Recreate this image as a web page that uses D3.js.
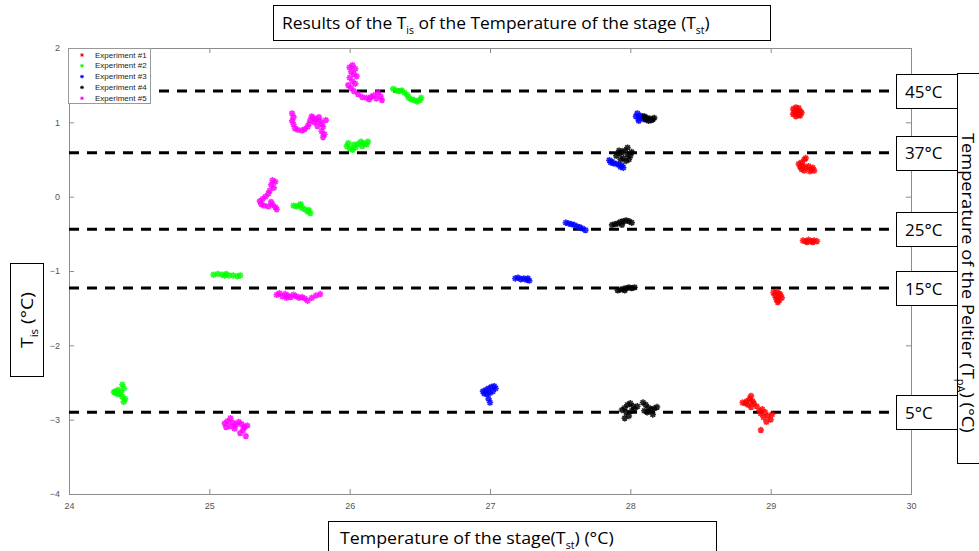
<!DOCTYPE html>
<html>
<head>
<meta charset="utf-8">
<script src="https://cdn.jsdelivr.net/npm/d3@7"></script>
<style>
  body { margin: 0; background: #fff; }
  svg { display: block; }
</style>
</head>
<body>
<script>
// --- data ---
const seriesNames = ["Experiment #1", "Experiment #2", "Experiment #3", "Experiment #4", "Experiment #5"];
const seriesColors = ["#ff0000", "#00ff00", "#0000ff", "#000000", "#ff00ff"];

// Experiment #1 (red)
const exp1 = [
  [29.16,1.18],[29.18,1.20],[29.2,1.19],[29.17,1.14],[29.19,1.12],[29.21,1.15],[29.2,1.1],[29.18,1.08],[29.16,1.11],[29.21,1.09],[29.19,1.16],[29.22,1.13],
  [29.2,0.44],[29.22,0.46],[29.21,0.40],[29.23,0.42],[29.24,0.5],[29.25,0.52],[29.22,0.37],[29.25,0.39],[29.27,0.41],[29.29,0.37],[29.31,0.35],[29.28,0.34],[29.3,0.39],[29.24,0.35],
  [29.23,-0.59],[29.25,-0.6],[29.27,-0.58],[29.29,-0.6],[29.31,-0.59],[29.33,-0.6],[29.26,-0.61],[29.3,-0.61],
  [29.02,-1.29],[29.04,-1.28],[29.06,-1.3],[29.03,-1.33],[29.05,-1.35],[29.07,-1.32],[29.04,-1.38],[29.06,-1.4],[29.05,-1.42],[29.08,-1.36],
  [28.8,-2.77],[28.83,-2.75],[28.85,-2.72],[28.86,-2.68],[28.87,-2.75],[28.84,-2.8],[28.88,-2.78],[28.9,-2.82],[28.86,-2.83],[28.82,-2.78],
  [28.92,-2.88],[28.94,-2.86],[28.93,-2.92],[28.96,-2.9],[28.95,-2.97],[28.98,-2.95],[29.0,-3.0],[28.97,-3.03],[28.93,-3.14],[29.01,-2.93]
];
// Experiment #2 (green)
const exp2 = [
  [26.31,1.45],[26.33,1.43],[26.35,1.42],[26.37,1.43],[26.39,1.40],[26.41,1.37],[26.42,1.33],[26.44,1.31],[26.46,1.30],[26.48,1.28],[26.5,1.3],[26.51,1.33],
  [25.98,0.68],[26.0,0.65],[25.99,0.72],[26.02,0.63],[26.04,0.66],[26.06,0.71],[26.08,0.74],[26.1,0.72],[26.12,0.70],[26.13,0.74],[26.09,0.68],[26.03,0.70],
  [25.6,-0.12],[25.62,-0.13],[25.64,-0.12],[25.66,-0.15],[25.68,-0.17],[25.7,-0.2],[25.72,-0.22],[25.71,-0.18],[25.65,-0.1],
  [25.03,-1.05],[25.06,-1.04],[25.09,-1.05],[25.12,-1.04],[25.14,-1.06],[25.17,-1.06],[25.2,-1.07],[25.22,-1.06],[25.11,-1.06],
  [24.33,-2.62],[24.35,-2.6],[24.37,-2.63],[24.39,-2.58],[24.38,-2.53],[24.36,-2.66],[24.38,-2.69],[24.4,-2.72],[24.39,-2.76],[24.34,-2.65],[24.32,-2.63]
];
// Experiment #3 (blue)
const exp3 = [
  [28.04,1.08],[28.05,1.12],[28.06,1.05],[28.07,1.09],[28.08,1.06],[28.09,1.08],[28.1,1.04],[28.06,1.02],
  [27.85,0.49],[27.86,0.46],[27.88,0.45],[27.9,0.44],[27.92,0.43],[27.93,0.4],[27.95,0.39],[27.94,0.42],[27.87,0.47],
  [27.54,-0.35],[27.56,-0.36],[27.58,-0.37],[27.6,-0.38],[27.62,-0.4],[27.64,-0.41],[27.66,-0.43],[27.68,-0.45],
  [27.18,-1.1],[27.2,-1.09],[27.22,-1.11],[27.24,-1.1],[27.26,-1.12],[27.28,-1.13],[27.27,-1.1],
  [26.95,-2.62],[26.97,-2.6],[26.99,-2.58],[27.01,-2.56],[27.03,-2.55],[27.04,-2.58],[26.98,-2.66],[27.0,-2.64],[27.02,-2.62],[26.99,-2.72],[27.0,-2.77],[26.96,-2.65]
];
// Experiment #4 (black)
const exp4 = [
  [28.1,1.08],[28.12,1.06],[28.14,1.05],[28.16,1.04],[28.17,1.06],[28.13,1.02],[28.15,1.03],[28.11,1.04],
  [27.9,0.55],[27.92,0.58],[27.94,0.6],[27.96,0.62],[27.98,0.57],[28.0,0.55],[27.95,0.52],[27.93,0.5],[27.97,0.48],[27.99,0.5],[28.01,0.6],[27.98,0.66],[27.92,0.62],
  [27.87,-0.38],[27.89,-0.37],[27.91,-0.36],[27.93,-0.34],[27.95,-0.33],[27.97,-0.32],[27.99,-0.33],[28.01,-0.35],[27.94,-0.38],
  [27.91,-1.26],[27.93,-1.25],[27.95,-1.24],[27.97,-1.23],[27.99,-1.22],[28.01,-1.23],[28.03,-1.22],[27.96,-1.26],
  [27.94,-2.87],[27.96,-2.84],[27.98,-2.8],[28.0,-2.78],[28.02,-2.82],[27.97,-2.9],[27.99,-2.95],[28.01,-2.88],[28.03,-2.86],[27.96,-2.98],
  [28.05,-2.82],[28.09,-2.77],[28.11,-2.8],[28.13,-2.84],[28.15,-2.86],[28.12,-2.9],[28.17,-2.85],[28.19,-2.83],[28.16,-2.93],[28.1,-2.88]
];
// Experiment #5 (magenta)
const exp5 = [
  [26.0,1.74],[26.02,1.77],[26.04,1.72],[26.01,1.68],[26.03,1.65],[26.05,1.62],[26.0,1.6],[26.02,1.55],[26.04,1.52],[25.99,1.5],[26.01,1.46],
  [26.03,1.42],[26.06,1.38],[26.09,1.34],[26.12,1.33],[26.15,1.34],[26.17,1.36],[26.19,1.32],[26.2,1.4],[26.22,1.35],[26.23,1.3],[26.14,1.31],
  [25.59,1.12],[25.6,1.07],[25.59,1.02],[25.6,0.97],[25.61,0.92],[25.63,0.9],[25.66,0.89],[25.68,0.91],[25.7,0.94],[25.71,0.98],[25.72,1.03],[25.73,1.08],
  [25.74,1.06],[25.76,1.04],[25.78,1.07],[25.79,1.02],[25.8,0.98],[25.81,0.94],[25.8,0.88],[25.82,0.84],[25.81,0.8],[25.77,0.95],[25.75,1.0],[25.83,1.03],
  [25.45,0.22],[25.47,0.2],[25.44,0.16],[25.46,0.12],[25.43,0.08],[25.42,0.04],[25.4,0.0],[25.38,-0.03],[25.36,-0.06],[25.37,-0.1],[25.39,-0.12],[25.42,-0.13],
  [25.45,-0.11],[25.47,-0.14],[25.48,-0.17],[25.44,-0.07],
  [25.48,-1.32],[25.5,-1.3],[25.52,-1.34],[25.54,-1.31],[25.56,-1.33],[25.58,-1.35],[25.6,-1.32],[25.62,-1.34],[25.64,-1.36],[25.66,-1.35],[25.68,-1.37],
  [25.7,-1.4],[25.73,-1.36],[25.76,-1.33],[25.79,-1.31],[25.55,-1.36],
  [25.11,-3.05],[25.13,-3.02],[25.15,-2.98],[25.17,-3.04],[25.19,-3.07],[25.21,-3.03],[25.23,-3.06],[25.25,-3.1],[25.27,-3.08],[25.24,-3.14],[25.22,-3.18],
  [25.26,-3.22],[25.15,-3.09],[25.12,-3.1],[25.18,-3.12]
];
const allSeries = [exp1, exp2, exp3, exp4, exp5];

// Peltier set points (dashed lines) and their labels
const peltierLevels = [1.42, 0.59, -0.44, -1.23, -2.9];
const peltierLabels = ["45°C", "37°C", "25°C", "15°C", "5°C"];

const xTicks = [24, 25, 26, 27, 28, 29, 30];
const yTicks = [-4, -3, -2, -1, 0, 1, 2];

// --- drawing ---
const W = 979, H = 551;
const boxFont = "'Open Sans', 'Noto Sans', sans-serif";
const svg = d3.select("body").append("svg").attr("width", W).attr("height", H);

const x = d3.scaleLinear().domain([24, 30]).range([69, 911]);
const y = d3.scaleLinear().domain([-4, 2]).range([494, 48]);

// axes (ticks pointing inside, like matlab)
const axisColor = "#8c8c8c";
function styleAxis(g, withText) {
  g.selectAll("path.domain").attr("stroke", axisColor);
  g.selectAll(".tick line").attr("stroke", axisColor);
  g.selectAll(".tick text")
    .attr("fill", withText ? "#555" : "none")
    .style("font-family", "'Liberation Sans', Arial, sans-serif")
    .style("font-size", "9px");
}
svg.append("g").attr("transform", "translate(0,494)")
  .call(d3.axisBottom(x).tickValues(xTicks).tickSize(-5).tickPadding(9).tickFormat(d3.format("d")))
  .call(g => styleAxis(g, true));
svg.append("g").attr("transform", "translate(0,48)")
  .call(d3.axisTop(x).tickValues(xTicks).tickSize(-5).tickFormat(""))
  .call(g => styleAxis(g, false));
svg.append("g").attr("transform", "translate(69,0)")
  .call(d3.axisLeft(y).tickValues(yTicks).tickSize(-5).tickPadding(9).tickFormat(d3.format("d")))
  .call(g => styleAxis(g, true));
svg.append("g").attr("transform", "translate(911,0)")
  .call(d3.axisRight(y).tickValues(yTicks).tickSize(-5).tickFormat(""))
  .call(g => styleAxis(g, false));

// dashed Peltier lines
svg.append("g").selectAll("line")
  .data(peltierLevels)
  .enter().append("line")
  .attr("x1", 69).attr("x2", 897)
  .attr("y1", d => y(d)).attr("y2", d => y(d))
  .attr("stroke", "#000")
  .attr("stroke-width", 3)
  .attr("stroke-dasharray", "10,8");

// star markers
const starPath = function (r) {
  let k = r * 0.72;
  return "M" + (-r) + ",0H" + r + "M0," + (-r) + "V" + r +
    "M" + (-k) + "," + (-k) + "L" + k + "," + k + "M" + (-k) + "," + k + "L" + k + "," + (-k);
};

allSeries.forEach((pts, i) => {
  svg.append("g").selectAll("path")
    .data(pts)
    .enter().append("path")
    .attr("transform", d => "translate(" + x(d[0]) + "," + y(d[1]) + ")")
    .attr("d", starPath(3.2))
    .attr("fill", "none")
    .attr("stroke", seriesColors[i])
    .attr("stroke-width", 1.6)
    .attr("stroke-opacity", 0.85);
});

// legend
const legend = svg.append("g");
legend.append("rect")
  .attr("x", 68.5).attr("y", 48.5).attr("width", 82).attr("height", 55)
  .attr("fill", "#fff").attr("stroke", "#999");
seriesNames.forEach((name, i) => {
  let ly = 55 + i * 10.8;
  legend.append("path")
    .attr("transform", "translate(82," + ly + ")")
    .attr("d", starPath(1.8))
    .attr("stroke", seriesColors[i]).attr("stroke-width", 1).attr("fill", "none");
  legend.append("text")
    .attr("x", 95).attr("y", ly)
    .attr("dominant-baseline", "central")
    .style("font-family", "'Liberation Sans', Arial, sans-serif")
    .style("font-size", "8px")
    .attr("fill", "#222")
    .text(name);
});

// text with subscript parts: parts = [[text, isSub], ...]
function richText(g, parts, size) {
  let t = g.append("text")
    .style("font-family", boxFont)
    .style("font-size", size + "px")
    .attr("fill", "#000");
  let shifted = false;
  parts.forEach(p => {
    let ts = t.append("tspan").text(p[0]);
    if (p[1] && !shifted) { ts.attr("dy", size * 0.28).style("font-size", (size * 0.6) + "px"); shifted = true; }
    else if (p[1]) { ts.style("font-size", (size * 0.6) + "px"); }
    else if (!p[1] && shifted) { ts.attr("dy", -size * 0.28); shifted = false; }
  });
  return t;
}
// squeeze a text group horizontally to a target width
function fitText(t, x0, y0, width, rotate) {
  let w = t.node().getComputedTextLength();
  let sx = width / w;
  t.attr("transform", "translate(" + x0 + "," + y0 + ")" + (rotate ? " rotate(" + rotate + ")" : "") + " scale(" + sx + ",1)");
}

// title box
svg.append("rect").attr("x", 273.5).attr("y", 5.5).attr("width", 497).attr("height", 35)
  .attr("fill", "#fff").attr("stroke", "#000");
let title = richText(svg, [["Results of the T", false], ["is", true], [" of the Temperature of the stage (T", false], ["st", true], [")", false]], 17);
fitText(title, 282, 29, 428);

// x label box
svg.append("rect").attr("x", 328.5).attr("y", 521.5).attr("width", 388).attr("height", 40)
  .attr("fill", "#fff").attr("stroke", "#000");
let xLab = richText(svg, [["Temperature of the stage(T", false], ["st", true], [") (°C)", false]], 17);
fitText(xLab, 340, 544, 274);

// y label box
svg.append("rect").attr("x", 10.5).attr("y", 263.5).attr("width", 33).attr("height", 113)
  .attr("fill", "#fff").attr("stroke", "#000");
let yLab = richText(svg, [["T", false], ["is", true], [" (°C)", false]], 17);
fitText(yLab, 33, 348, 56, -90);

// Peltier label boxes
peltierLevels.forEach((lv, i) => {
  let cy = y(lv);
  svg.append("rect").attr("x", 896.5).attr("y", Math.round(cy - 17) + 0.5).attr("width", 61).attr("height", 34)
    .attr("fill", "#fff").attr("stroke", "#000");
  svg.append("text").attr("x", 905).attr("y", cy)
    .attr("dominant-baseline", "central")
    .style("font-family", boxFont).style("font-size", "17px")
    .text(peltierLabels[i]);
});

// right side tall box
svg.append("rect").attr("x", 957.5).attr("y", 73.5).attr("width", 40).attr("height", 390)
  .attr("fill", "#fff").attr("stroke", "#000");
let rLab = richText(svg, [["Temperature of the Peltier (T", false], ["pA", true], [") (°C)", false]], 17);
fitText(rLab, 962, 133, 300, 90);
</script>
</body>
</html>
